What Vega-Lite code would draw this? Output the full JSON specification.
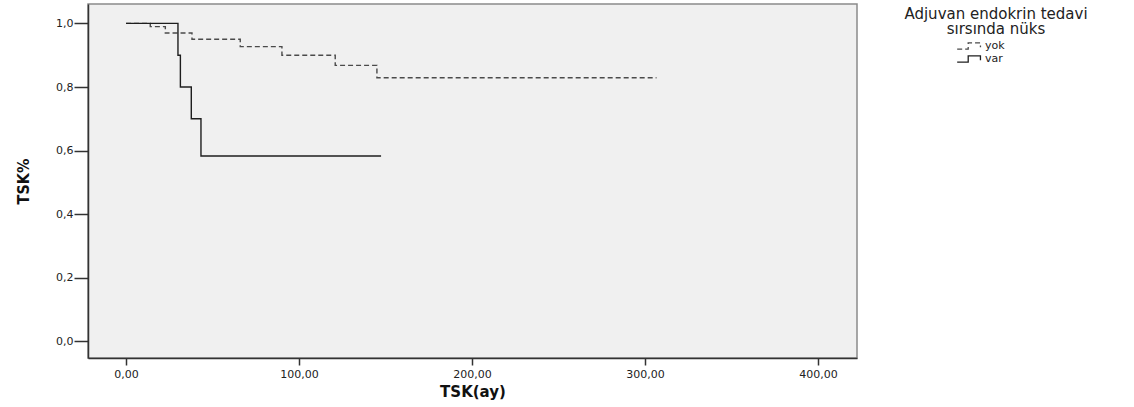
{
  "$schema": "https://vega.github.io/schema/vega-lite/v6.json",
  "autosize": "none",
  "width": 769,
  "height": 354,
  "padding": {"left": 88, "top": 4, "right": 277, "bottom": 49},
  "background": "#ffffff",
  "config": {
    "locale": {"number": {"decimal": ",", "thousands": ".", "grouping": [3], "currency": ["", ""]}},
    "view": {"fill": "#f0f0f0", "stroke": "#8a8a8a", "strokeWidth": 1.5},
    "font": "DejaVu Sans"
  },
  "data": {
    "values": [
      {"grup": "yok", "ay": 0, "tsk": 1.0},
      {"grup": "yok", "ay": 14.0, "tsk": 0.99},
      {"grup": "yok", "ay": 22.7, "tsk": 0.97},
      {"grup": "yok", "ay": 38.1, "tsk": 0.95},
      {"grup": "yok", "ay": 66.0, "tsk": 0.927},
      {"grup": "yok", "ay": 90.1, "tsk": 0.9},
      {"grup": "yok", "ay": 120.9, "tsk": 0.868},
      {"grup": "yok", "ay": 145.0, "tsk": 0.829},
      {"grup": "yok", "ay": 306.6, "tsk": 0.829},
      {"grup": "var", "ay": 0, "tsk": 1.0},
      {"grup": "var", "ay": 30.0, "tsk": 0.9},
      {"grup": "var", "ay": 31.4, "tsk": 0.8},
      {"grup": "var", "ay": 37.7, "tsk": 0.7},
      {"grup": "var", "ay": 43.3, "tsk": 0.583},
      {"grup": "var", "ay": 147.4, "tsk": 0.583}
    ]
  },
  "mark": {"type": "line", "interpolate": "step-after", "strokeWidth": 1.4, "clip": true},
  "encoding": {
    "x": {
      "field": "ay",
      "type": "quantitative",
      "scale": {"domain": [-22, 422.5], "nice": false, "zero": false},
      "axis": {
        "title": "TSK(ay)",
        "values": [0, 100, 200, 300, 400],
        "format": ".2f",
        "grid": false,
        "domainColor": "#333333",
        "domainWidth": 1.5,
        "tickColor": "#333333",
        "tickWidth": 1.5,
        "tickSize": 7,
        "labelPadding": 3,
        "labelFont": "DejaVu Sans",
        "labelFontSize": 11,
        "labelColor": "#222222",
        "titleFont": "DejaVu Sans",
        "titleFontSize": 15,
        "titleFontWeight": "bold",
        "titleColor": "#111111",
        "titlePadding": 5
      }
    },
    "y": {
      "field": "tsk",
      "type": "quantitative",
      "scale": {"domain": [-0.052, 1.061], "nice": false, "zero": false},
      "axis": {
        "title": "TSK%",
        "values": [0, 0.2, 0.4, 0.6, 0.8, 1.0],
        "format": ".1f",
        "grid": false,
        "domainColor": "#333333",
        "domainWidth": 1.5,
        "tickColor": "#333333",
        "tickWidth": 1.5,
        "tickSize": 14,
        "labelPadding": 1,
        "labelFont": "DejaVu Sans",
        "labelFontSize": 11,
        "labelColor": "#222222",
        "titleFont": "'DejaVu Sans Condensed', 'Liberation Sans', sans-serif",
        "titleFontSize": 16,
        "titleFontWeight": "bold",
        "titleColor": "#111111",
        "titleAngle": -90,
        "titleX": -60,
        "titleY": 177,
        "titleBaseline": "alphabetic",
        "titleAlign": "center"
      }
    },
    "color": {
      "field": "grup",
      "type": "nominal",
      "sort": ["yok", "var"],
      "scale": {"domain": ["yok", "var"], "range": ["#4a4a4a", "#1e1e1e"]},
      "legend": {
        "title": ["Adjuvan endokrin tedavi", "sırsında nüks"],
        "orient": "none",
        "legendX": 816,
        "legendY": 3,
        "padding": 0,
        "titleFont": "DejaVu Sans",
        "titleFontSize": 15,
        "titleFontWeight": "normal",
        "titleColor": "#222222",
        "titleAlign": "center",
        "titleAnchor": "middle",
        "titleLimit": 400,
        "titleLineHeight": 15,
        "titlePadding": 2,
        "symbolType": "M-3.4,0.5H-1.6V-0.5H0.4V0.2",
        "symbolSize": 150,
        "symbolStrokeWidth": 1.3,
        "symbolOffset": -16,
        "labelFont": "DejaVu Sans",
        "labelFontSize": 11,
        "labelColor": "#222222",
        "labelOffset": 0,
        "rowPadding": 0
      }
    },
    "strokeDash": {
      "field": "grup",
      "type": "nominal",
      "scale": {"domain": ["yok", "var"], "range": [[5, 3], [1, 0]]},
      "legend": null
    }
  }
}
